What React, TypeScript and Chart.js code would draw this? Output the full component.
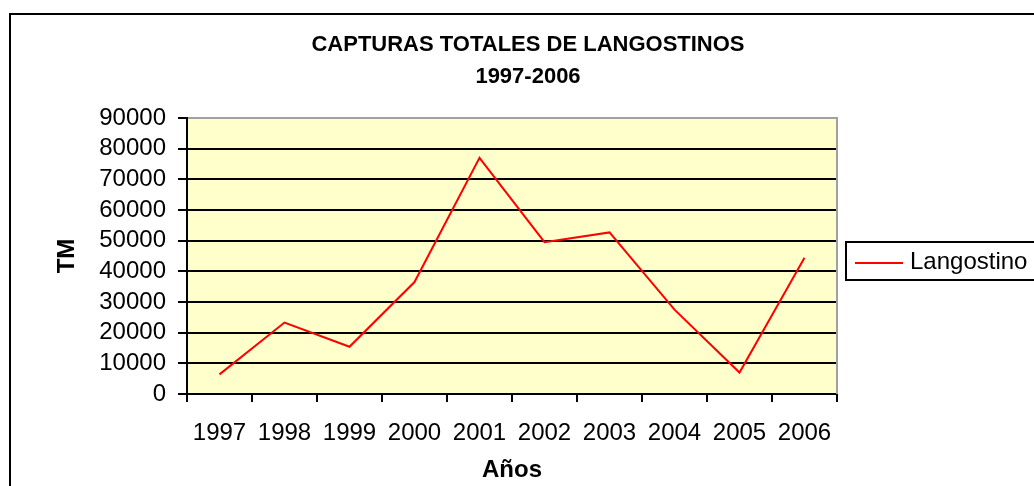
import React, { useEffect, useRef } from "react";
import { Chart, registerables } from "chart.js";

Chart.register(...registerables);

const categories = ["1997", "1998", "1999", "2000", "2001", "2002", "2003", "2004", "2005", "2006"];
const langostino = [6400, 23300, 15400, 36500, 77000, 49500, 52700, 27500, 7000, 44400];
const seriesName = "Langostino";
const titleLines = ["CAPTURAS TOTALES DE LANGOSTINOS", "1997-2006"];
const xTitle = "Años";
const yTitle = "TM";
const yMin = 0;
const yMax = 90000;
const yStep = 10000;

const FONT = "'Liberation Sans', Arial, sans-serif";

const decorPlugin = {
  id: "decor",
  beforeDraw(chart: any) {
    const { ctx, chartArea } = chart;
    ctx.save();
    ctx.fillStyle = "#ffffff";
    ctx.fillRect(0, 0, chart.width, chart.height);
    ctx.fillStyle = "#FFFFCC";
    ctx.fillRect(chartArea.left, chartArea.top, chartArea.right - chartArea.left, chartArea.bottom - chartArea.top);
    ctx.restore();
  },
  beforeDatasetsDraw(chart: any) {
    const { ctx, chartArea } = chart;
    ctx.save();
    ctx.fillStyle = "#a0a0a0";
    ctx.fillRect(chartArea.right - 1, chartArea.top - 1, 2, chartArea.bottom - chartArea.top + 1);
    ctx.restore();
  },
  afterDraw(chart: any) {
    const { ctx } = chart;
    ctx.save();
    // outer frame
    ctx.fillStyle = "#000";
    ctx.fillRect(9, 13, 2, 1000);
    ctx.fillRect(9, 13, 2000, 2);
    // title
    ctx.fillStyle = "#000";
    ctx.textAlign = "center";
    ctx.textBaseline = "middle";
    ctx.font = `bold 22px ${FONT}`;
    ctx.fillText(titleLines[0], 528, 45);
    ctx.fillText(titleLines[1], 528, 77);
    // legend
    const ds = chart.data.datasets[0];
    ctx.lineWidth = 2;
    ctx.strokeStyle = "#000";
    ctx.strokeRect(846, 242, 400, 38);
    ctx.strokeStyle = ds.borderColor;
    ctx.beginPath();
    ctx.moveTo(855, 263);
    ctx.lineTo(903, 263);
    ctx.stroke();
    ctx.fillStyle = "#000";
    ctx.textAlign = "left";
    ctx.font = `24px ${FONT}`;
    ctx.fillText(ds.label, 910, 262);
    ctx.restore();
  },
};

export default function App() {
  const ref = useRef<HTMLCanvasElement>(null);
  useEffect(() => {
    if (!ref.current) return;
    const chart = new Chart(ref.current, {
      type: "line",
      data: {
        labels: categories,
        datasets: [
          {
            label: seriesName,
            data: langostino,
            borderColor: "#FF0000",
            borderWidth: 2,
            pointRadius: 0,
            tension: 0,
            fill: false,
          },
        ],
      },
      options: {
        responsive: false,
        animation: false,
        devicePixelRatio: 1,
        layout: { padding: { top: 118, right: 197, bottom: 0, left: 0 } },
        plugins: {
          legend: { display: false },
          title: { display: false },
          tooltip: { enabled: false },
        },
        scales: {
          x: {
            type: "category",
            offset: true,
            grid: {
              offset: true,
              drawOnChartArea: false,
              drawTicks: true,
              tickLength: 8,
              tickColor: "#000",
              tickWidth: 2,
              color: "#000",
              lineWidth: 2,
            },
            border: { color: "#000", width: 2 },
            ticks: {
              color: "#000",
              font: { family: FONT, size: 24 },
              padding: 17,
              maxRotation: 0,
              autoSkip: false,
            },
            title: {
              display: true,
              text: xTitle,
              color: "#000",
              font: { family: FONT, size: 24, weight: "bold" },
              padding: { top: 0, bottom: 1 },
            },
            afterFit(scale: any) {
              scale.height = 92;
            },
          },
          y: {
            min: yMin,
            max: yMax,
            ticks: {
              stepSize: yStep,
              autoSkip: false,
              color: "#000",
              font: { family: FONT, size: 24 },
              padding: 12,
              callback: (v: any) => String(v),
            },
            grid: {
              color: (c: any) => (c.tick && c.tick.value === yMax ? "#a0a0a0" : "#000"),
              lineWidth: 2,
              tickLength: 9,
              tickColor: "#000",
              tickWidth: 2,
            },
            border: { color: "#000", width: 2 },
            title: {
              display: true,
              text: yTitle,
              color: "#000",
              font: { family: FONT, size: 24, weight: "bold" },
              padding: { top: 53, bottom: 0 },
            },
            afterFit(scale: any) {
              scale.width = 187;
            },
          },
        },
      },
      plugins: [decorPlugin],
    });
    return () => chart.destroy();
  }, []);
  return (
    <div style={{ position: "absolute", left: 0, top: 0, width: 1034, height: 486 }}>
      <canvas ref={ref} width={1034} height={486} style={{ display: "block" }} />
    </div>
  );
}
